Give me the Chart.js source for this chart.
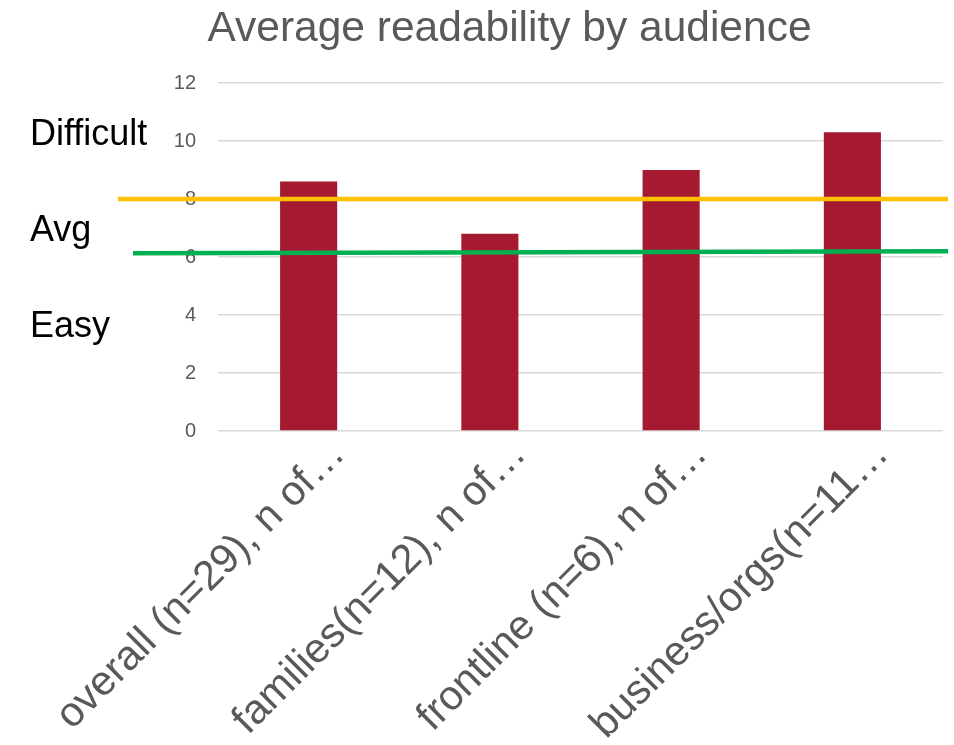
<!DOCTYPE html>
<html>
<head>
<meta charset="utf-8">
<script src="https://cdn.jsdelivr.net/npm/chart.js@4.4.1/dist/chart.umd.min.js"></script>
<style>
  html, body { margin: 0; padding: 0; background: #fff; }
  #wrap { width: 954px; height: 745px; }
</style>
</head>
<body>
<div id="wrap"><canvas id="chart"></canvas></div>
<script>
const audiences = ["overall (n=29), n of\u2026", "families(n=12), n of\u2026", "frontline (n=6), n of\u2026", "business/orgs(n=11\u2026"];
const readability = [8.6, 6.8, 9.0, 10.3];
const yTicks = [0, 2, 4, 6, 8, 10, 12];

// overlay reference lines: [value at left end, value at right end]
const difficultLine = [8.0, 8.0];
const easyLine = [6.13, 6.2];
const zoneNames = ["Difficult", "Avg", "Easy"];
const zoneValues = [10.2, 6.9, 3.6];

const font = "'Liberation Sans', Arial, sans-serif";

const overlay = {
  id: "overlay",
  afterDatasetsDraw(chart) {
    const { ctx } = chart;
    const y = chart.scales.y;
    ctx.save();
    ctx.lineCap = "butt";
    const lines = [
      { v: difficultLine, color: "#FFC000", x0: 118 },
      { v: easyLine, color: "#00B050", x0: 133 }
    ];
    lines.forEach(l => {
      ctx.strokeStyle = l.color;
      ctx.lineWidth = 4.5;
      ctx.beginPath();
      ctx.moveTo(l.x0, y.getPixelForValue(l.v[0]));
      ctx.lineTo(948, y.getPixelForValue(l.v[1]));
      ctx.stroke();
    });
    ctx.fillStyle = "#000";
    ctx.font = "36px " + font;
    ctx.textAlign = "left";
    ctx.textBaseline = "middle";
    zoneNames.forEach((n, i) => {
      ctx.fillText(n, 30, y.getPixelForValue(zoneValues[i]));
    });
    ctx.restore();
  }
};

new Chart(document.getElementById("chart"), {
  type: "bar",
  data: {
    labels: audiences,
    datasets: [{
      data: readability,
      backgroundColor: "#A51931",
      barPercentage: 0.315,
      categoryPercentage: 1
    }]
  },
  options: {
    responsive: true,
    maintainAspectRatio: false,
    animation: false,
    layout: { padding: { left: 76, right: 11, top: 0, bottom: 0 } },
    plugins: {
      legend: { display: false },
      tooltip: { enabled: false },
      title: {
        display: true,
        text: "Average readability by audience",
        color: "#595959",
        font: { family: font, size: 42.5, weight: "normal" },
        padding: { top: 4, bottom: 28 }
      }
    },
    scales: {
      y: {
        min: 0,
        max: 12,
        afterBuildTicks: s => { s.ticks = yTicks.map(v => ({ value: v })); },
        afterFit: s => { s.width = 142; },
        border: { display: false },
        grid: { color: "#D9D9D9", lineWidth: 1.5, drawTicks: false },
        ticks: { color: "#595959", padding: 22, font: { family: font, size: 20 } }
      },
      x: {
        afterFit: s => { s.height = 314; },
        border: { display: false },
        grid: { display: false },
        ticks: {
          color: "#595959",
          minRotation: 45,
          maxRotation: 45,
          autoSkip: false,
          padding: -9,
          labelOffset: 30,
          font: { family: font, size: 41.5 }
        }
      }
    }
  },
  plugins: [overlay]
});
</script>
</body>
</html>
